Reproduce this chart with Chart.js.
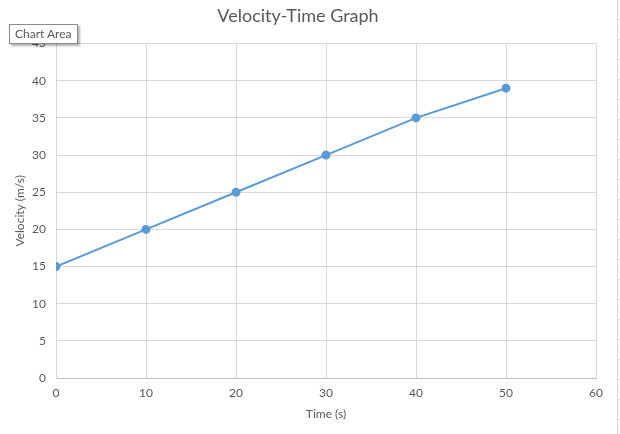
<!DOCTYPE html>
<html>
<head>
<meta charset="utf-8">
<script src="https://cdn.jsdelivr.net/npm/chart.js@4/dist/chart.umd.min.js"></script>
<style>
  body { margin: 0; background: #fff; }
  .wrap { position: relative; width: 620px; height: 434px; }
  #chart { position: absolute; left: 0; top: 0; }
  .sheet-edge {
    position: absolute; left: 617px; top: 0; width: 3px; height: 434px;
    border-left: 1px solid #d4d4d4;
    background: repeating-linear-gradient(to bottom, transparent 0, transparent 19px, #e2e2e2 19px, #e2e2e2 20px);
  }
  .chart-area-tip {
    position: absolute; left: 9px; top: 24px; padding: 1px 5px 2px 5px;
    background: #fff; border: 1px solid #8c8c8c;
    box-shadow: 2px 2px 2px rgba(0,0,0,0.3);
    font: 12px Lato, "Open Sans", sans-serif; color: #595959;
  }
</style>
</head>
<body>
<div class="wrap">
  <canvas id="chart" width="620" height="434"></canvas>
  <div class="sheet-edge"></div>
  <div class="chart-area-tip">Chart Area</div>
</div>
<script>
const chartTitle = 'Velocity-Time Graph';
const xTitle = 'Time (s)';
const yTitle = 'Velocity (m/s)';
// readings from the graph
const timeValues = [0, 10, 20, 30, 40, 50];
const velocityValues = [15, 20, 25, 30, 35, 39];

const textColor = '#595959';
const gridColor = '#d9d9d9';
const lineColor = '#5b9bd5';

const points = timeValues.map((t, i) => ({ x: t, y: velocityValues[i] }));

const ctx = document.getElementById('chart').getContext('2d');
const myChart = new Chart(ctx, {
  type: 'scatter',
  data: {
    datasets: [
      {
        label: 'Velocity',
        data: points,
        showLine: true,
        borderColor: lineColor,
        borderWidth: 2,
        pointRadius: 3.5,
        pointBackgroundColor: lineColor,
        pointBorderColor: lineColor,
        tension: 0,
      },
    ],
  },
  options: {
    responsive: false,
    animation: false,
    layout: { padding: { left: 0, right: 24, top: 0, bottom: 0 } },
    plugins: {
      legend: { display: false },
      tooltip: { enabled: false },
      title: {
        display: true,
        text: chartTitle,
        color: textColor,
        font: { family: 'Lato', size: 18, weight: 'normal' },
        padding: { top: 5, bottom: 17 },
      },
    },
    scales: {
      x: {
        type: 'linear',
        min: 0,
        max: 60,
        ticks: {
          stepSize: 10,
          color: textColor,
          padding: 8,
          font: { family: 'Lato', size: 12 },
        },
        grid: { color: gridColor, drawTicks: false },
        border: { color: '#bfbfbf' },
        title: {
          display: true,
          text: xTitle,
          color: textColor,
          font: { family: 'Lato', size: 12 },
          padding: { top: 10, bottom: 13 },
        },
        afterFit: (scale) => { scale.height = 56; },
      },
      y: {
        min: 0,
        max: 45,
        ticks: {
          stepSize: 5,
          color: textColor,
          padding: 10,
          font: { family: 'Lato', size: 12 },
        },
        grid: { color: gridColor, drawTicks: false },
        border: { color: gridColor },
        title: {
          display: true,
          text: yTitle,
          color: textColor,
          font: { family: 'Lato', size: 12 },
          padding: { top: 13, bottom: 13 },
        },
        afterFit: (scale) => { scale.width = 56; },
      },
    },
  },
});
</script>
</body>
</html>
